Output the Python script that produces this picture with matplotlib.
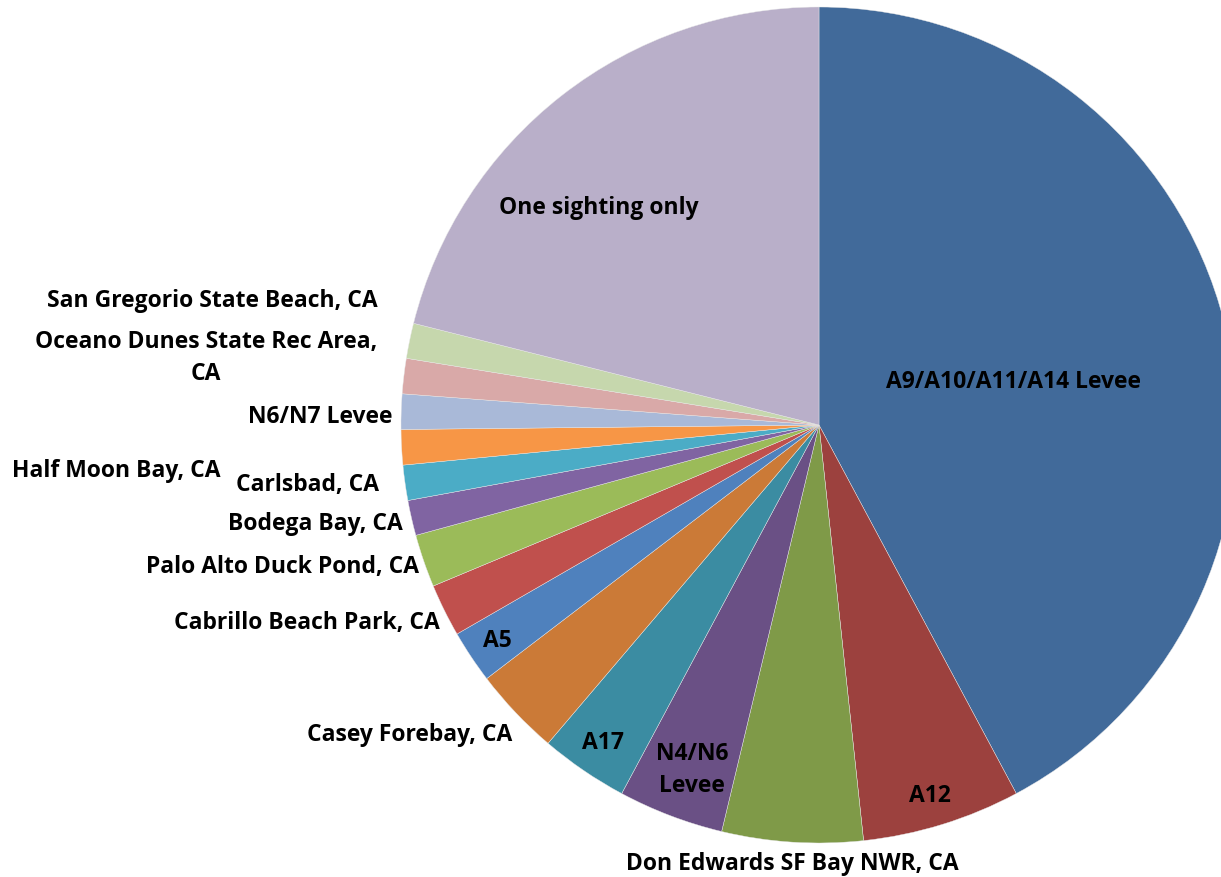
import matplotlib.pyplot as plt

# sightings per location
locations = ["A9/A10/A11/A14 Levee", "A12", "Don Edwards SF Bay NWR, CA", "N4/N6\nLevee",
             "A17", "Casey Forebay, CA", "A5", "Cabrillo Beach Park, CA",
             "Palo Alto Duck Pond, CA", "Bodega Bay, CA", "Carlsbad, CA",
             "Half Moon Bay, CA", "N6/N7 Levee", "Oceano Dunes State Rec Area,\nCA",
             "San Gregorio State Beach, CA", "One sighting only"]
counts = [62, 9, 8, 6, 5, 5, 3, 3, 3, 2, 2, 2, 2, 2, 2, 31]
colors = ["#416A9A", "#9C413E", "#7F9A48", "#6A5085", "#3B8CA2", "#CB7A37",
          "#4F81BD", "#C0504D", "#9BBB59", "#8064A2", "#4BACC6", "#F79646",
          "#A9B9D8", "#D9A9A8", "#C6D7AD", "#B9AFC9"]

# label anchor points in pixel coords (x, y from top)
label_px = [(1014, 382), (930, 796), (792, 864), (692, 770), (603, 743),
            (410, 735), (497, 641), (307, 623), (283, 567), (315, 524),
            (308, 485), (116, 471), (320, 417), (206, 358), (212, 301),
            (599, 208)]

W, H = 1221, 878
fig = plt.figure(figsize=(W / 100, H / 100), dpi=100)
ax = fig.add_axes([0, 0, 1, 1])
ax.axis("off")

ax.pie(counts, colors=colors, startangle=90, counterclock=False,
       center=(819, H - 426), radius=418,
       wedgeprops=dict(linewidth=0.3, edgecolor="#e8e8e8"))
ax.set_xlim(0, W)
ax.set_ylim(0, H)
ax.set_aspect("equal")

for name, (px, py) in zip(locations, label_px):
    ax.text(px, H - py, name, ha="center", va="center", fontsize=16.5,
            fontweight="bold", family="Open Sans", color="black",
            linespacing=1.4)

fig.savefig("out.png", dpi=100)
